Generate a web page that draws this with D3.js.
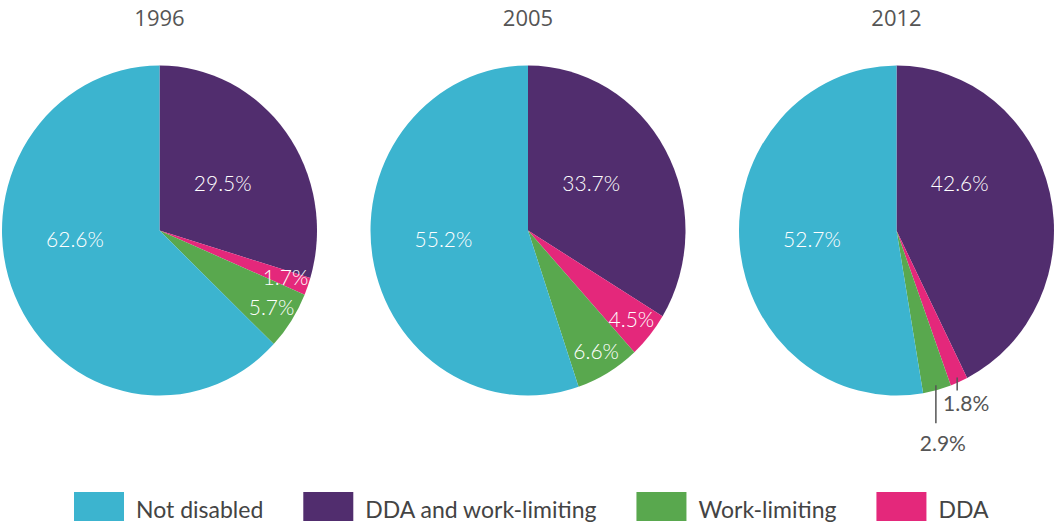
<!DOCTYPE html>
<html>
<head>
<meta charset="utf-8">
<script src="https://cdn.jsdelivr.net/npm/d3@7"></script>
<style>
    body { margin: 0; background: #fff; }
    svg { display: block; }
</style>
</head>
<body>
<div id="chart"></div>
<script>
// data
const years = ["1996", "2005", "2012"];
const categories = ["Not disabled", "DDA and work-limiting", "Work-limiting", "DDA"];
const notDisabled = [62.6, 55.2, 52.7];
const ddaAndWork = [29.5, 33.7, 42.6];
const workLimiting = [5.7, 6.6, 2.9];
const ddaOnly = [1.7, 4.5, 1.8];

const colors = {
    "Not disabled": "#3cb4cf",
    "DDA and work-limiting": "#512d6e",
    "Work-limiting": "#59a84e",
    "DDA": "#e4287b"
};

// clockwise from 12 o'clock
const sliceOrder = ["DDA and work-limiting", "DDA", "Work-limiting", "Not disabled"];
const seriesByCat = {
    "Not disabled": notDisabled,
    "DDA and work-limiting": ddaAndWork,
    "Work-limiting": workLimiting,
    "DDA": ddaOnly
};

const width = 1055, height = 523;
const rx = 157.5, ry = 165, cy = 230.5;

// big labels sit at a fixed spot in every pie, small ones at the centroid
const bigLabelSpot = {
    "DDA and work-limiting": {angle: 55, r: 0.49},
    "Not disabled": {angle: 264, r: 0.54}
};
// 2012 small slices get labels outside with leader lines
const outsideLeader = {"DDA": {len: 13, dx: 9, dy: 21}, "Work-limiting": {len: 38, dx: 7, dy: 28}};

const svg = d3.select("#chart").append("svg")
    .attr("width", width)
    .attr("height", height);

const x = d3.scalePoint().domain(years).range([159.5, 896.5]);

const pie = d3.pie().sort(null).value((d) => d.value);
const arc = d3.arc().innerRadius(0).outerRadius(rx);

const spot = (angleDeg, r) => {
    const a = angleDeg * Math.PI / 180;
    return [Math.sin(a) * rx * r, -Math.cos(a) * ry * r];
};

years.forEach((year, i) => {
    const cx = x(year);
    const data = sliceOrder.map((cat) => ({cat, value: seriesByCat[cat][i]}));
    const arcs = pie(data);

    svg.append("text")
        .attr("x", cx)
        .attr("y", 26)
        .attr("text-anchor", "middle")
        .attr("font-family", "'Open Sans', sans-serif")
        .attr("font-size", 22)
        .attr("fill", "#555")
        .text(year);

    svg.append("g")
        .attr("transform", `translate(${cx},${cy}) scale(1,${ry / rx})`)
        .selectAll("path")
        .data(arcs)
        .join("path")
        .attr("d", arc)
        .attr("fill", (d) => colors[d.data.cat]);

    const labels = svg.append("g").attr("transform", `translate(${cx},${cy})`);

    arcs.forEach((d) => {
        const cat = d.data.cat;
        const mid = (d.startAngle + d.endAngle) / 2 * 180 / Math.PI;
        const txt = d.data.value.toFixed(1) + "%";

        if (year === "2012" && outsideLeader[cat]) {
            const o = outsideLeader[cat];
            const [lx, ly] = spot(mid, 0.97);
            labels.append("line")
                .attr("x1", lx).attr("x2", lx)
                .attr("y1", ly).attr("y2", ly + o.len)
                .attr("stroke", "#555")
                .attr("stroke-width", 1.5);
            labels.append("text")
                .attr("x", lx + o.dx)
                .attr("y", ly + o.len + o.dy)
                .attr("text-anchor", "middle")
                .attr("font-family", "Lato, sans-serif")
                .attr("font-size", 21)
                .attr("fill", "#555")
                .text(txt);
            return;
        }

        const s = bigLabelSpot[cat];
        const [tx, ty] = s ? spot(s.angle, s.r) : spot(mid, 0.85);
        labels.append("text")
            .attr("x", tx)
            .attr("y", ty)
            .attr("dy", "0.35em")
            .attr("text-anchor", "middle")
            .attr("font-family", "Lato, sans-serif")
            .attr("font-weight", 300)
            .attr("font-size", 21)
            .attr("fill", "#fff")
            .text(txt);
    });
});

// legend
const legend = svg.append("g").attr("transform", "translate(74,492)");
let lx = 0;
categories.forEach((cat) => {
    const item = legend.append("g").attr("transform", `translate(${lx},0)`);
    item.append("rect")
        .attr("width", 50)
        .attr("height", 29)
        .attr("fill", colors[cat]);
    const t = item.append("text")
        .attr("x", 62)
        .attr("y", 26)
        .attr("font-family", "Lato, sans-serif")
        .attr("font-size", 23)
        .attr("fill", "#444")
        .text(cat);
    lx += 62 + t.node().getComputedTextLength() + 40;
});
</script>
</body>
</html>
